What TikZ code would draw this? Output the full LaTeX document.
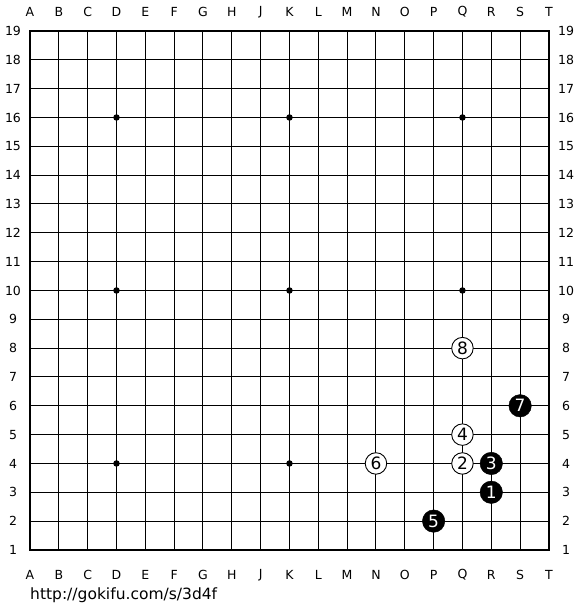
\documentclass[tikz,border=0pt]{standalone}
\usepackage{fontspec}
\setmainfont{DejaVu Sans}
\begin{document}
\begin{tikzpicture}[x=1pt,y=-1pt,
  lbl/.style={font=\fontsize{12.5}{12.5}\selectfont, inner sep=0pt},
  bstone/.style={circle, fill=black, draw=black, minimum size=22.5pt, inner sep=0pt, text=white, font=\fontsize{17}{17}\selectfont},
  wstone/.style={circle, fill=white, draw=black, line width=0.9pt, minimum size=21.5pt, inner sep=0pt, text=black, font=\fontsize{17}{17}\selectfont},
  hoshi/.style={circle, fill=black, minimum size=6.5pt, inner sep=0pt}]
\useasboundingbox (0,0) rectangle (580,610);
\fill[white] (0,0) rectangle (580,610);
\def\sp{28.83}
% grid
\foreach \i in {1,...,17} {
  \draw[line width=1pt] ({30+\sp*\i},31) -- ({30+\sp*\i},{31+\sp*18});
  \draw[line width=1pt] (30,{31+\sp*\i}) -- ({30+\sp*18},{31+\sp*\i});
}
\draw[line width=2pt] (30,31) rectangle ({30+\sp*18},{31+\sp*18});
% column labels
\foreach \c [count=\k from 0] in {A,B,C,D,E,F,G,H,J,K,L,M,N,O,P,Q,R,S,T} {
  \node[lbl] (top\c) at ({30+\sp*\k},12) {\c};
  \node[lbl] (bot\c) at ({30+\sp*\k},575) {\c};
}
% row labels
\foreach \r in {1,...,19} {
  \node[lbl] (left\r) at (13,{31+\sp*(19-\r)}) {\r};
  \node[lbl] (right\r) at (566,{31+\sp*(19-\r)}) {\r};
}
% star points
\foreach \ci/\ri [count=\n] in {3/4,9/4,15/4,3/10,9/10,15/10,3/16,9/16,15/16} {
  \node[hoshi] (h\n) at ({30+\sp*\ci},{31+\sp*(19-\ri)}) {};
}
% stones
\node[bstone] (s1) at ({30+\sp*16},{31+\sp*16}) {1};
\node[wstone] (s2) at ({30+\sp*15},{31+\sp*15}) {2};
\node[bstone] (s3) at ({30+\sp*16},{31+\sp*15}) {3};
\node[wstone] (s4) at ({30+\sp*15},{31+\sp*14}) {4};
\node[bstone] (s5) at ({30+\sp*14},{31+\sp*17}) {5};
\node[wstone] (s6) at ({30+\sp*12},{31+\sp*15}) {6};
\node[bstone] (s7) at ({30+\sp*17},{31+\sp*13}) {7};
\node[wstone] (s8) at ({30+\sp*15},{31+\sp*11}) {8};
% url
\node[anchor=west, inner sep=0pt, font=\fontsize{15.5}{15.5}\selectfont] (url) at (30,595) {http://gokifu.com/s/3d4f};
\end{tikzpicture}
\end{document}
